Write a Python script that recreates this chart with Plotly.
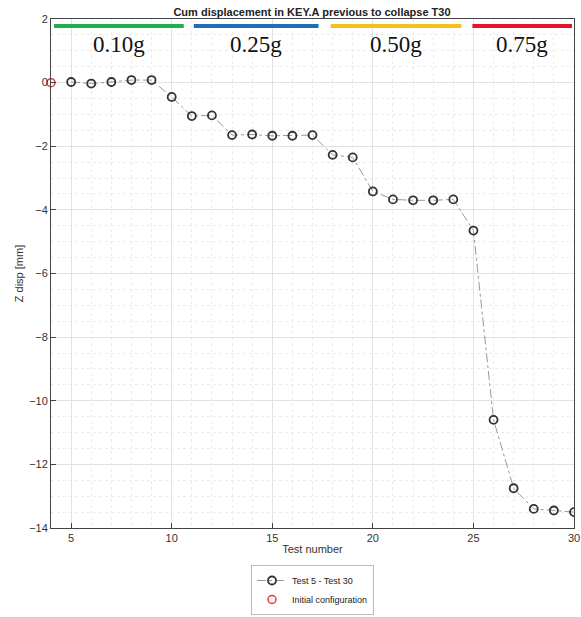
import plotly.graph_objects as go

tests = list(range(5, 31))
z_disp = [0.02, -0.03, 0.02, 0.08, 0.08, -0.45, -1.05, -1.03, -1.65, -1.63,
          -1.67, -1.67, -1.65, -2.27, -2.35, -3.42, -3.67, -3.70, -3.70, -3.67,
          -4.65, -10.6, -12.75, -13.4, -13.45, -13.5]
init_x = [4]
init_y = [0]

pga_labels = ["0.10g", "0.25g", "0.50g", "0.75g"]
pga_start = [4.15, 11.1, 17.9, 24.95]
pga_end = [10.6, 17.3, 24.4, 29.9]
pga_colors = ["#20b04b", "#1e6fba", "#f4c01e", "#e5142a"]

fig = go.Figure()
fig.add_trace(go.Scatter(
    x=tests, y=z_disp, mode="lines+markers", name="Test 5 - Test 30",
    line=dict(color="#999999", width=1, dash="dashdot"),
    marker=dict(symbol="circle-open", size=8, color="#333333", line=dict(width=1.8)),
))
fig.add_trace(go.Scatter(
    x=init_x, y=init_y, mode="markers", name="Initial configuration",
    marker=dict(symbol="circle-open", size=8, color="#ee3333", line=dict(width=1.5)),
    cliponaxis=False,
))

for s, e, c, lab in zip(pga_start, pga_end, pga_colors, pga_labels):
    fig.add_shape(type="line", x0=s, x1=e, y0=1.78, y1=1.78, xref="x", yref="y",
                  line=dict(color=c, width=4))
    fig.add_annotation(x=(s + e) / 2, y=1.2, text=lab, showarrow=False, xref="x", yref="y",
                       font=dict(family="Liberation Serif, Times New Roman, serif", size=23, color="#111111"))

fig.update_layout(
    width=581, height=617,
    margin=dict(l=51, r=7, t=19, b=89, autoexpand=False),
    paper_bgcolor="white", plot_bgcolor="white",
    font=dict(family="Liberation Sans, Arial, sans-serif", size=11, color="#333333"),
    title=dict(text="<b>Cum displacement in KEY.A previous to collapse T30</b>",
               x=0.537, xanchor="center", yref="container", y=1 - 12 / 617, yanchor="middle",
               font=dict(size=11, color="#222222")),
    showlegend=True,
    legend=dict(x=0.5, xanchor="center", yref="container", y=1 - 565 / 617, yanchor="top",
                bordercolor="#bbbbbb", borderwidth=1, bgcolor="white",
                font=dict(size=9, color="#222222"), itemwidth=30,
                tracegroupgap=0),
    xaxis=dict(range=[4, 30], tickvals=[5, 10, 15, 20, 25, 30],
               title=dict(text="Test number", standoff=2, font=dict(size=11)),
               showline=True, linecolor="#444444", linewidth=1, mirror=True,
               ticks="inside", ticklen=5, tickcolor="#444444", ticklabeloverflow="allow",
               showgrid=True, gridcolor="#e2e2e2", gridwidth=1, zeroline=False,
               minor=dict(dtick=1, showgrid=True, gridcolor="#ececec", griddash="dot")),
    yaxis=dict(range=[-14, 2], dtick=2,
               title=dict(text="Z disp [mm]", standoff=3, font=dict(size=11)),
               showline=True, linecolor="#444444", linewidth=1, mirror=True,
               ticks="inside", ticklen=5, tickcolor="#444444",
               showgrid=True, gridcolor="#e2e2e2", gridwidth=1, zeroline=False,
               minor=dict(dtick=0.5, showgrid=True, gridcolor="#ececec", griddash="dot")),
)

fig.write_html(
    "out.html",
    config={"displayModeBar": False},
    post_script="document.body.style.margin='0px';document.body.style.overflow='hidden';",
)
